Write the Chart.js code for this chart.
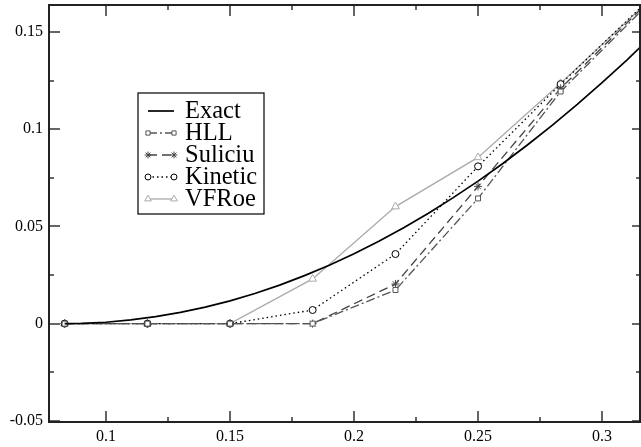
<!DOCTYPE html>
<html>
<head>
<meta charset="utf-8">
<script src="https://cdn.jsdelivr.net/npm/chart.js@4/dist/chart.umd.min.js"></script>
<style>
  html, body { margin: 0; padding: 0; background: #fff; }
</style>
</head>
<body>
<canvas id="myChart" width="641" height="447"></canvas>
<script>
(() => {
  'use strict'

  // cell centres and the four schemes
  const cellX = [0.0833, 0.1167, 0.15, 0.1833, 0.2167, 0.25, 0.2833, 0.3167];
  const hll = [0, 0, 0, 0, 0.0173, 0.0644, 0.1194, 0.162];
  const suliciu = [0, 0, 0, 0, 0.0204, 0.0706, 0.121, 0.163];
  const kinetic = [0, 0, 0, 0.007, 0.0358, 0.0809, 0.1232, 0.164];
  const vfroe = [0, 0, 0, 0.023, 0.0602, 0.0855, 0.1236, 0.1635];

  // exact solution
  const exactX = [0.0833, 0.09, 0.10, 0.11, 0.12, 0.13, 0.14, 0.15, 0.16, 0.17, 0.18, 0.19,
    0.20, 0.21, 0.22, 0.23, 0.24, 0.25, 0.26, 0.27, 0.28, 0.29, 0.30, 0.31, 0.32];
  const exactY = [0, 0.0001, 0.0007, 0.0019, 0.0036, 0.0058, 0.0085, 0.0117, 0.0155, 0.0198,
    0.0247, 0.030, 0.0359, 0.0424, 0.0493, 0.0568, 0.0648, 0.0733, 0.0824, 0.092, 0.1021,
    0.1128, 0.124, 0.1356, 0.1479];

  const xTicks = [0.1, 0.15, 0.2, 0.25, 0.3];
  const xMinor = [0.125, 0.175, 0.225, 0.275];
  const yTicks = [-0.05, 0, 0.05, 0.1, 0.15];
  const yMinor = [-0.025, 0.025, 0.075, 0.125];

  const pts = (xs, ys) => xs.map((x, i) => ({ x: x, y: ys[i] }));

  const serif = '"Liberation Serif", "Times New Roman", serif';

  const series = (label, ys, color, dash, style, radius) => ({
    label: label,
    data: pts(cellX, ys),
    showLine: true,
    borderColor: color,
    borderWidth: 1.3,
    borderDash: dash,
    pointStyle: style,
    pointRadius: radius,
    pointBorderColor: color,
    pointBackgroundColor: '#fff',
    pointBorderWidth: 1,
    clip: 0
  });

  const noPad = s => {
    s.paddingTop = 0; s.paddingBottom = 0; s.paddingLeft = 0; s.paddingRight = 0;
  };

  const frame = {
    id: 'frame',
    afterDraw(chart) {
      const { ctx, chartArea: a, scales } = chart;
      const xs = scales.x, ys = scales.y;
      ctx.save();
      ctx.strokeStyle = '#333';
      ctx.lineWidth = 1.5;
      const tick = (x1, y1, x2, y2) => {
        ctx.beginPath(); ctx.moveTo(x1, y1); ctx.lineTo(x2, y2); ctx.stroke();
      };
      xTicks.forEach(v => {
        const x = Math.round(xs.getPixelForValue(v));
        tick(x, a.bottom, x, a.bottom - 11);
        tick(x, a.top, x, a.top + 11);
      });
      xMinor.forEach(v => {
        const x = Math.round(xs.getPixelForValue(v));
        tick(x, a.bottom, x, a.bottom - 5);
        tick(x, a.top, x, a.top + 5);
      });
      yTicks.forEach(v => {
        const y = Math.round(ys.getPixelForValue(v));
        tick(a.left, y, a.left + 11, y);
        tick(a.right, y, a.right - 8, y);
      });
      yMinor.forEach(v => {
        const y = Math.round(ys.getPixelForValue(v));
        tick(a.left, y, a.left + 5, y);
        tick(a.right, y, a.right - 4, y);
      });
      ctx.strokeStyle = '#222';
      ctx.lineWidth = 2;
      ctx.strokeRect(a.left, a.top, a.right - a.left, a.bottom - a.top);

      // legend box
      const bx = 138, by = 93, bw = 126, bh = 121;
      ctx.fillStyle = '#fff';
      ctx.fillRect(bx, by, bw, bh);
      ctx.strokeStyle = '#000';
      ctx.lineWidth = 1.2;
      ctx.strokeRect(bx, by, bw, bh);
      ctx.font = '24.5px ' + serif;
      ctx.textBaseline = 'middle';
      ctx.textAlign = 'left';
      chart.data.datasets.forEach((ds, i) => {
        const y = by + 18 + i * 22;
        ctx.strokeStyle = ds.borderColor;
        ctx.lineWidth = ds.borderWidth;
        ctx.setLineDash(ds.borderDash || []);
        tick(148, y, 174, y);
        ctx.setLineDash([]);
        if (ds.pointRadius > 0) {
          ctx.fillStyle = '#fff';
          ctx.strokeStyle = ds.pointBorderColor;
          ctx.lineWidth = 1;
          [148, 174].forEach(px => {
            Chart.helpers.drawPoint(ctx, {
              pointStyle: ds.pointStyle, radius: ds.pointRadius * 0.85, rotation: 0, borderWidth: 1
            }, px, y);
          });
        }
        ctx.fillStyle = '#000';
        ctx.fillText(ds.label, 185, y + 1);
      });
      ctx.restore();
    }
  };

  const ctx = document.getElementById('myChart');

  new Chart(ctx, {
    type: 'scatter',
    data: {
      datasets: [
        {
          label: 'Exact',
          data: pts(exactX, exactY),
          showLine: true,
          borderColor: '#000',
          borderWidth: 1.7,
          pointRadius: 0,
          clip: 0
        },
        series('HLL', hll, '#555', [9, 3, 2, 3], 'rect', 3.5),
        series('Suliciu', suliciu, '#444', [9, 5], 'star', 4),
        series('Kinetic', kinetic, '#000', [1.5, 3], 'circle', 3.5),
        series('VFRoe', vfroe, '#aaa', [], 'triangle', 4.5)
      ]
    },
    options: {
      responsive: false,
      animation: false,
      layout: { autoPadding: false, padding: { top: 5, right: 1, left: 0, bottom: 0 } },
      scales: {
        x: {
          type: 'linear',
          min: 0.0770,
          max: 0.3153,
          afterFit: s => { s.height = 25; noPad(s); },
          afterBuildTicks: s => { s.ticks = xTicks.map(v => ({ value: v })); },
          grid: { display: false, drawTicks: false },
          border: { display: false },
          ticks: {
            padding: 5,
            color: '#000',
            font: { family: serif, size: 16 },
            callback: v => String(v)
          }
        },
        y: {
          type: 'linear',
          min: -0.0506,
          max: 0.1639,
          afterFit: s => { s.width = 49; noPad(s); },
          afterBuildTicks: s => { s.ticks = yTicks.map(v => ({ value: v })); },
          grid: { display: false, drawTicks: false },
          border: { display: false },
          ticks: {
            padding: 6,
            color: '#000',
            font: { family: serif, size: 16 },
            callback: v => String(v)
          }
        }
      },
      plugins: {
        legend: { display: false },
        tooltip: { enabled: false }
      }
    },
    plugins: [frame]
  });
})()
</script>
</body>
</html>
